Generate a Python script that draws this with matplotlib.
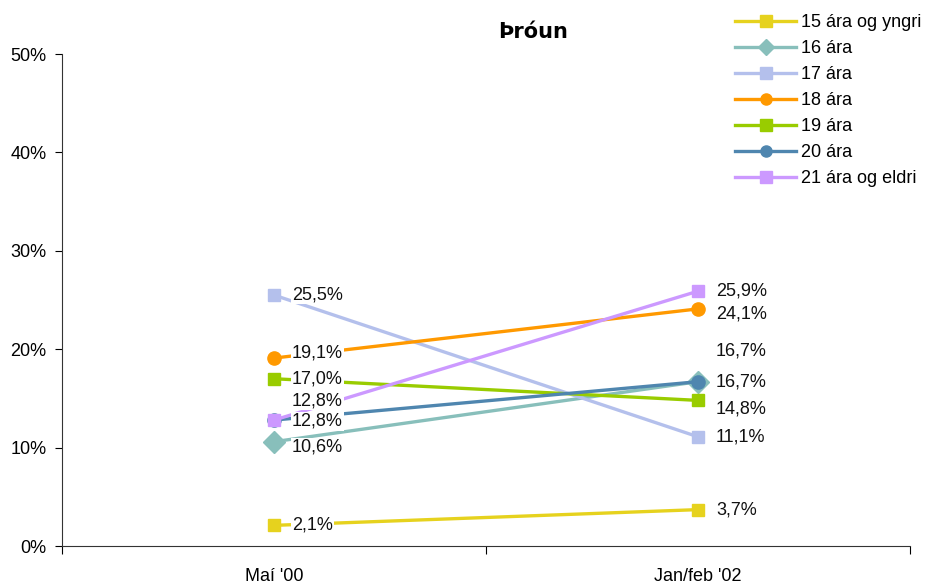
import matplotlib
matplotlib.use("Agg")
import matplotlib.pyplot as plt

# data
categories = ["Maí '00", "Jan/feb '02"]
series_names = ["15 ára og yngri", "16 ára", "17 ára", "18 ára", "19 ára", "20 ára", "21 ára og eldri"]
v15 = [2.1, 3.7]
v16 = [10.6, 16.7]
v17 = [25.5, 11.1]
v18 = [19.1, 24.1]
v19 = [17.0, 14.8]
v20 = [12.8, 16.7]
v21 = [12.8, 25.9]
values = [v15, v16, v17, v18, v19, v20, v21]

# styles
colors = ["#E6D21E", "#88BFBB", "#B4C0EC", "#FF9900", "#99CC00", "#4F86AF", "#CC99FF"]
markers = ["s", "D", "s", "o", "s", "o", "s"]
msizes = [9, 11, 9, 9.5, 9, 9.5, 9]
# label offsets in points (dy for each category), to keep labels from overlapping
label_dy = [
    [0, 0],     # 15
    [-4, 0],    # 16
    [0, 0],     # 17
    [4, -4],    # 18
    [0, -6],    # 19
    [-1, 22],   # 20
    [14, 0],    # 21
]

names = [f.name for f in matplotlib.font_manager.fontManager.ttflist]
main_font = "Liberation Sans Narrow" if "Liberation Sans Narrow" in names else "Liberation Sans"
plt.rcParams['font.family'] = [main_font, 'DejaVu Sans']
plt.rcParams['font.size'] = 13

fig = plt.figure(figsize=(9.27, 5.87), dpi=100)
ax = fig.add_axes([0.0669, 0.0698, 0.9148, 0.8382])

x = [0, 1]
for name, vals, c, m, ms in zip(series_names, values, colors, markers, msizes):
    ax.plot(x, vals, color=c, lw=2.4, marker=m, ms=ms, mec=c, mfc=c, label=name)

for vals, dys in zip(values, label_dy):
    for i, v in enumerate(vals):
        ax.annotate(f"{v:.1f}%".replace(".", ","), (x[i], v),
                    xytext=(13, dys[i]), textcoords="offset points",
                    ha="left", va="center", fontsize=13, color="#111111",
                    bbox=dict(boxstyle="square,pad=0.05", fc="white", ec="none"),
                    zorder=10)

ax.set_xlim(-0.5, 1.5)
ax.set_ylim(0, 50)
ax.set_yticks([0, 10, 20, 30, 40, 50])
ax.set_yticklabels([f"{t}%" for t in range(0, 60, 10)])
ax.set_xticks([-0.5, 0.5, 1.5])
ax.set_xticklabels([])
ax.set_xticks(x, minor=True)
ax.set_xticklabels(categories, minor=True)
ax.tick_params(axis="x", which="minor", length=0, pad=16)
ax.tick_params(axis="x", which="major", length=6, direction="out")
ax.tick_params(axis="y", length=5, direction="out", pad=6)
for s in ["top", "right"]:
    ax.spines[s].set_visible(False)
ax.spines["left"].set_color("#333333")
ax.spines["bottom"].set_color("#333333")

fig.text(0.575, 0.945, "Þróun", ha="center", va="center", fontsize=15,
         fontweight="bold", family="DejaVu Sans")

leg = fig.legend(loc="upper left", bbox_to_anchor=(0.785, 0.988), frameon=False,
                 fontsize=13, handlelength=3.4, handletextpad=0.25, labelspacing=0.5,
                 borderaxespad=0)
for h in leg.legend_handles:
    h.set_markersize(8)

fig.savefig("out.png", dpi=100)
